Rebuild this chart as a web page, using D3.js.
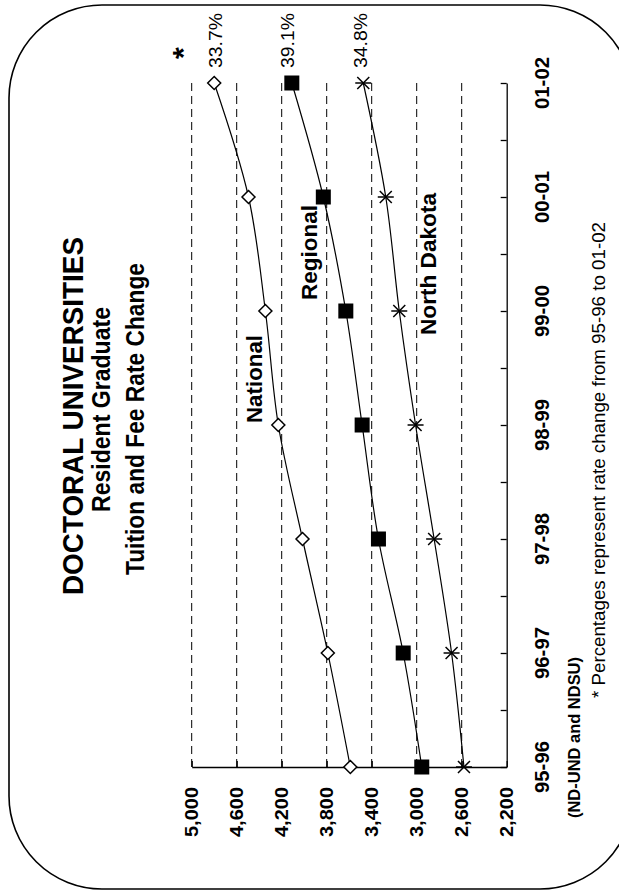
<!DOCTYPE html>
<html>
<head>
<meta charset="utf-8">
<script src="https://cdn.jsdelivr.net/npm/d3@7"></script>
<style>
  html, body { margin: 0; padding: 0; background: #fff; }
  svg { display: block; }
</style>
</head>
<body>
<svg id="chart" width="619" height="891"></svg>
<script>
// ---------------- DATA ----------------
const categories = ["95-96", "96-97", "97-98", "98-99", "99-00", "00-01", "01-02"];
const national    = [3590, 3790, 4015, 4230, 4345, 4495, 4800];
const regional    = [2955, 3120, 3340, 3485, 3630, 3830, 4110];
const northDakota = [2580, 2690, 2845, 3010, 3155, 3275, 3475];
const seriesNames = ["National", "Regional", "North Dakota"];
const pctLabels   = ["33.7%", "39.1%", "34.8%"];
const valueTicks  = [2200, 2600, 3000, 3400, 3800, 4200, 4600, 5000];
const gridValues  = [2600, 3000, 3400, 3800, 4200, 4600, 5000];
const titleLines  = ["DOCTORAL UNIVERSITIES", "Resident Graduate", "Tuition and Fee Rate Change"];
const noteLines   = ["(ND-UND and NDSU)", "* Percentages represent rate change from 95-96 to 01-02"];

// ---------------- LAYOUT ----------------
const FONT = "'Liberation Sans', Arial, Helvetica, sans-serif";
const svg = d3.select("#chart");

// value axis runs horizontally (chart rotated 90deg counter-clockwise)
const x = d3.scaleLinear().domain([2200, 5000]).range([506.7, 191.7]);
// category axis runs vertically, first category at bottom
const yi = d3.scaleLinear().domain([0, categories.length - 1]).range([767, 83]);
const y = d3.scalePoint().domain(categories).range([767, 83]);

// rounded frame
svg.append("rect")
  .attr("x", 9).attr("y", 5).attr("width", 624).attr("height", 884)
  .attr("rx", 93).attr("ry", 93)
  .attr("fill", "none").attr("stroke", "#000").attr("stroke-width", 1.6);

// helper for rotated text (reads bottom-to-top); bx = baseline x, by = start y (bottom)
function vtext(str, bx, by, size, weight, len) {
  const t = svg.append("text")
    .attr("transform", `translate(${bx},${by}) rotate(-90)`)
    .attr("font-family", FONT)
    .attr("font-size", size)
    .attr("font-weight", weight)
    .attr("fill", "#000")
    .text(str);
  if (len) t.attr("textLength", len).attr("lengthAdjust", "spacingAndGlyphs");
  return t;
}

// gridlines (dashed)
svg.append("g").selectAll("line").data(gridValues).join("line")
  .attr("x1", d => x(d)).attr("x2", d => x(d))
  .attr("y1", yi(0)).attr("y2", yi(categories.length - 1))
  .attr("stroke", "#000").attr("stroke-width", 1)
  .attr("stroke-dasharray", "8,5");

// value axis (bottom line, ticks pointing inward)
const xAxis = svg.append("g")
  .attr("transform", `translate(0,${yi(0)})`)
  .call(d3.axisBottom(x).tickValues(valueTicks).tickSize(-6).tickSizeOuter(0).tickFormat(""));
xAxis.selectAll("path,line").attr("stroke", "#000").attr("stroke-width", 1.3);

// category axis (right line, ticks pointing inward, at categories and midpoints)
const yAxis = svg.append("g")
  .attr("transform", `translate(${x(2200)},0)`)
  .call(d3.axisRight(yi).tickValues(d3.range(0, categories.length - 0.99, 0.5)).tickSize(-6).tickSizeOuter(0).tickFormat(""));
yAxis.selectAll("path,line").attr("stroke", "#000").attr("stroke-width", 1.3);

// value tick labels
const fmt = d3.format(",");
valueTicks.forEach(v => vtext(fmt(v), x(v) + 6, 837, 18, "bold", 50));

// category labels
categories.forEach(c => vtext(c, 549, y(c) + 26, 20.5, "bold", 52));

// lines
const series = [national, regional, northDakota];
const line = d3.line()
  .x(d => x(d.v)).y(d => y(d.c))
  .curve(d3.curveCatmullRom.alpha(0.5));
series.forEach(s => {
  svg.append("path")
    .datum(s.map((v, i) => ({ c: categories[i], v })))
    .attr("d", line)
    .attr("fill", "none").attr("stroke", "#000").attr("stroke-width", 1.2);
});

// markers
const gN = svg.append("g");
national.forEach((v, i) => {
  const cx = x(v), cy = y(categories[i]), r = 6.5;
  gN.append("path")
    .attr("d", `M${cx},${cy - r}L${cx + r},${cy}L${cx},${cy + r}L${cx - r},${cy}Z`)
    .attr("fill", "#fff").attr("stroke", "#000").attr("stroke-width", 1.5);
});
const gR = svg.append("g");
regional.forEach((v, i) => {
  const cx = x(v), cy = y(categories[i]), s = 15;
  gR.append("rect").attr("x", cx - s / 2).attr("y", cy - s / 2)
    .attr("width", s).attr("height", s).attr("fill", "#000");
});
const gD = svg.append("g");
northDakota.forEach((v, i) => {
  const cx = x(v), cy = y(categories[i]);
  const segs = [[-8, 0, 8, 0], [-6, -6, 6, 6], [-6, 6, 6, -6]];
  segs.forEach(s => gD.append("line")
    .attr("x1", cx + s[0]).attr("y1", cy + s[1]).attr("x2", cx + s[2]).attr("y2", cy + s[3])
    .attr("stroke", "#000").attr("stroke-width", 1.5));
});

// percentage labels next to last points
const pctOffsets = [8, 2, 4];
series.forEach((s, i) => {
  vtext(pctLabels[i], x(s[s.length - 1]) + pctOffsets[i], 68, 17.5, "normal", 55);
});

// footnote marker asterisk at top
vtext("*", 193, 59, 30, "bold");

// series labels
vtext(seriesNames[0], 262, 423, 22, "bold", 88);
vtext(seriesNames[1], 317, 300, 22, "bold", 95);
vtext(seriesNames[2], 436, 335, 22, "bold", 142);

// titles
vtext(titleLines[0], 83, 595, 29, "bold", 358);
vtext(titleLines[1], 110, 512, 25, "bold", 205);
vtext(titleLines[2], 144, 575, 25, "bold", 312);

// notes
vtext(noteLines[0], 580, 818, 16.5, "bold", 161);
vtext(noteLines[1], 605, 698, 18.5, "normal", 476);
</script>
</body>
</html>
